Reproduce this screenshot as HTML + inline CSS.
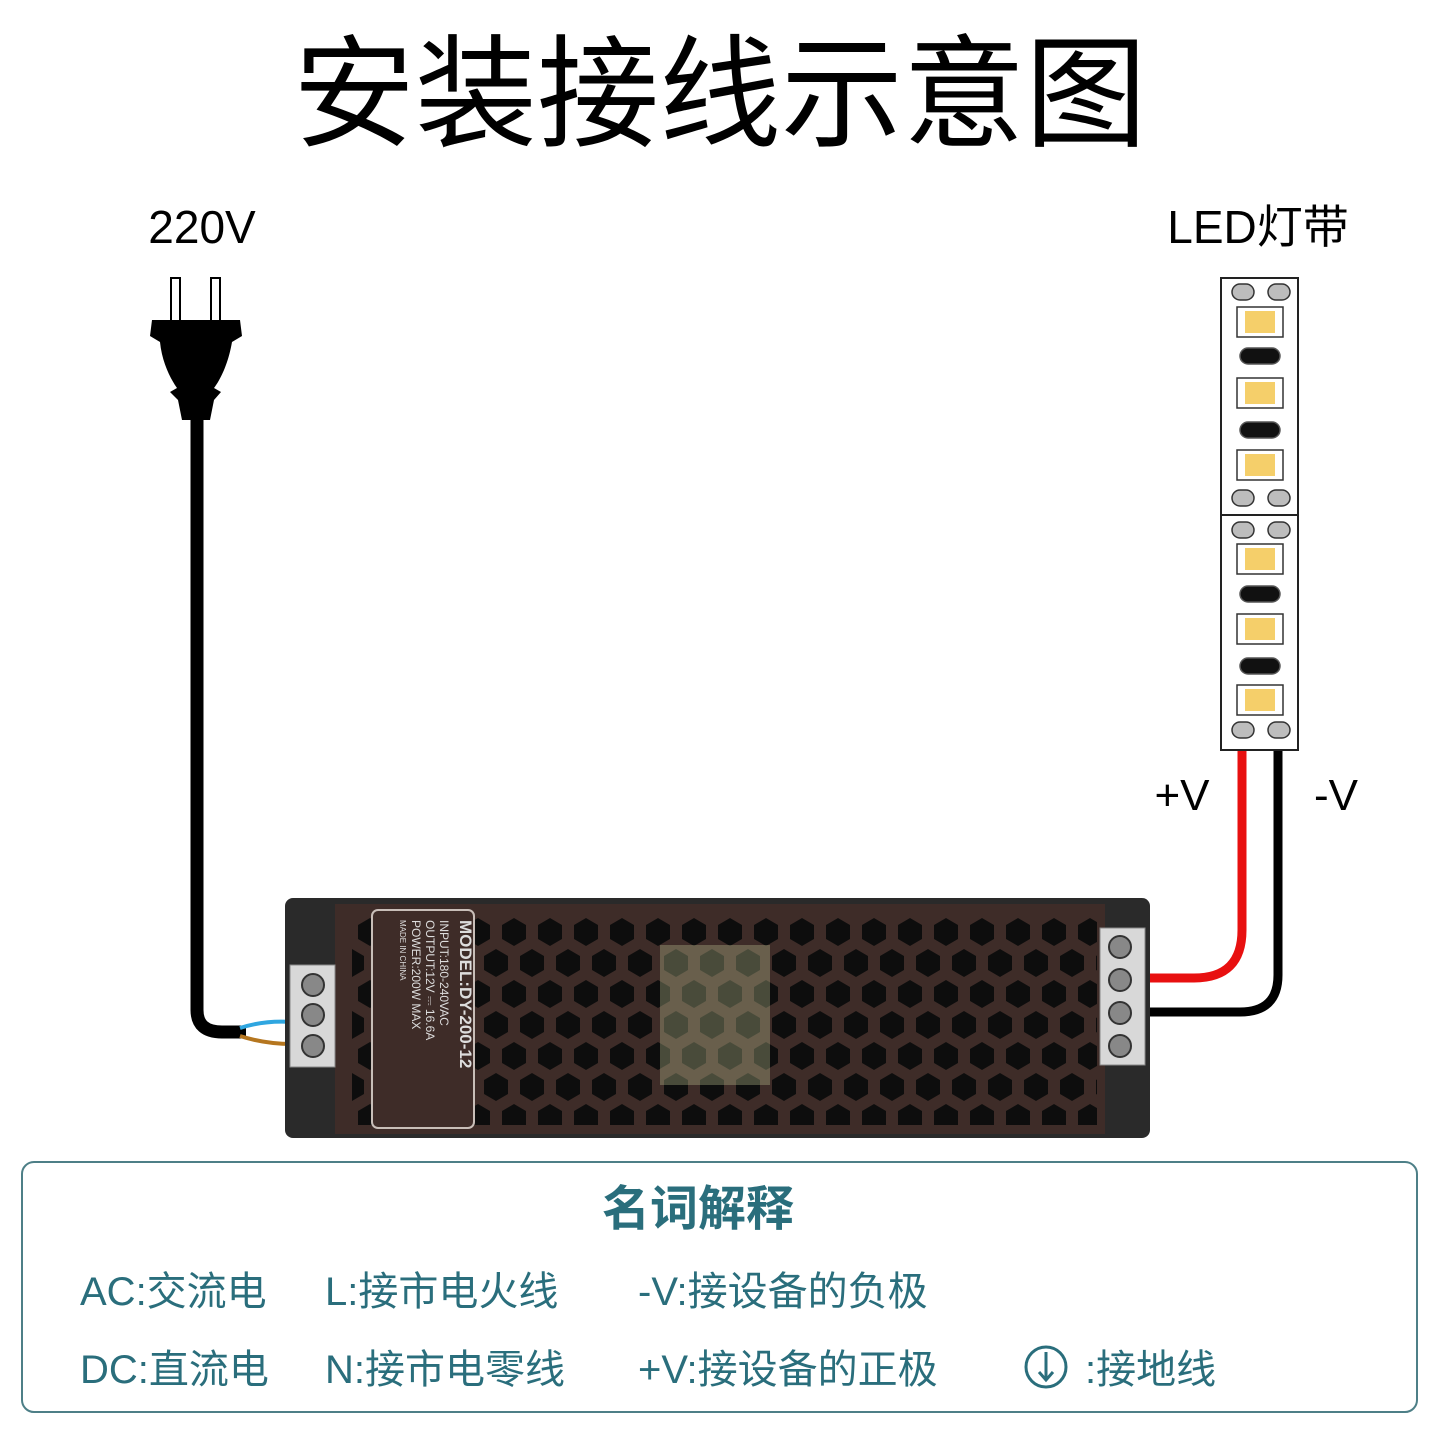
<!DOCTYPE html>
<html><head><meta charset="utf-8"><style>
body{margin:0;background:#fff;}
svg{display:block}
text{font-family:"Liberation Sans","Noto Sans CJK SC",sans-serif}
</style></head><body>
<svg width="1440" height="1440" viewBox="0 0 1440 1440" xmlns="http://www.w3.org/2000/svg">
<defs>
<pattern id="hex" x="352" y="915" width="36" height="62" patternUnits="userSpaceOnUse">
<polygon points="18,3 30,10 30,24 18,31 6,24 6,10" fill="#0d0d0d"/>
<polygon points="0,34 12,41 12,55 0,62 -12,55 -12,41" fill="#0d0d0d"/>
<polygon points="36,34 48,41 48,55 36,62 24,55 24,41" fill="#0d0d0d"/>
</pattern>
</defs>
<text x="720" y="137" font-size="122" text-anchor="middle" fill="#000">安装接线示意图</text>
<text x="202" y="243" font-size="46" text-anchor="middle" fill="#000">220V</text>
<text x="1258" y="243" font-size="46" text-anchor="middle" fill="#000">LED灯带</text>

<rect x="171" y="278" width="9" height="44" fill="#fff" stroke="#000" stroke-width="2"/>
<rect x="211" y="278" width="9" height="44" fill="#fff" stroke="#000" stroke-width="2"/>
<path d="M152,320 H240 L242,336 L232,342 C228,365 220,380 214,388 L221,392 L214,400 L210,420 H182 L178,400 L170,392 L177,388 C170,378 162,362 160,342 L150,336 Z" fill="#000"/>
<path d="M197,415 V1010 Q197,1032 222,1032 H246" fill="none" stroke="#000" stroke-width="13"/>
<path d="M240,1028 Q265,1020 292,1022" fill="none" stroke="#2fa6e0" stroke-width="4"/>
<path d="M240,1036 Q265,1044 292,1044" fill="none" stroke="#b5761f" stroke-width="4"/>

<path d="M1242,732 V930 Q1242,978 1194,978 H1145" fill="none" stroke="#e81010" stroke-width="9"/>
<path d="M1278,732 V975 Q1278,1012 1240,1012 H1145" fill="none" stroke="#000" stroke-width="9"/>
<text x="1182" y="810" font-size="44" text-anchor="middle" fill="#000">+V</text>
<text x="1336" y="810" font-size="44" text-anchor="middle" fill="#000">-V</text>

<rect x="1221" y="278" width="77" height="472" fill="#fff" stroke="#222" stroke-width="2"/>
<line x1="1221" y1="515" x2="1298" y2="515" stroke="#222" stroke-width="2"/>
<g fill="#bdbdbd" stroke="#333" stroke-width="1.5">
<rect x="1232" y="284" width="22" height="16" rx="8"/><rect x="1268" y="284" width="22" height="16" rx="8"/>
<rect x="1232" y="490" width="22" height="16" rx="8"/><rect x="1268" y="490" width="22" height="16" rx="8"/>
<rect x="1232" y="522" width="22" height="16" rx="8"/><rect x="1268" y="522" width="22" height="16" rx="8"/>
<rect x="1232" y="722" width="22" height="16" rx="8"/><rect x="1268" y="722" width="22" height="16" rx="8"/>
</g>
<g stroke="#333" stroke-width="1.5" fill="#fff">
<rect x="1237" y="307" width="46" height="30"/><rect x="1237" y="378" width="46" height="30"/><rect x="1237" y="450" width="46" height="30"/>
<rect x="1237" y="544" width="46" height="30"/><rect x="1237" y="614" width="46" height="30"/><rect x="1237" y="685" width="46" height="30"/>
</g>
<g fill="#f5cf6a">
<rect x="1245" y="311" width="30" height="22"/><rect x="1245" y="382" width="30" height="22"/><rect x="1245" y="454" width="30" height="22"/>
<rect x="1245" y="548" width="30" height="22"/><rect x="1245" y="618" width="30" height="22"/><rect x="1245" y="689" width="30" height="22"/>
</g>
<g fill="#111" stroke="#555" stroke-width="1.5">
<rect x="1240" y="348" width="40" height="16" rx="8"/><rect x="1240" y="422" width="40" height="16" rx="8"/>
<rect x="1240" y="586" width="40" height="16" rx="8"/><rect x="1240" y="658" width="40" height="16" rx="8"/>
</g>

<rect x="285" y="898" width="865" height="240" rx="8" fill="#2a2a2a"/>
<rect x="335" y="904" width="770" height="230" fill="#3e2c28"/>
<rect x="352" y="915" width="745" height="210" fill="url(#hex)"/>
<rect x="660" y="945" width="110" height="140" fill="#b9c090" opacity="0.35"/>
<rect x="372" y="910" width="102" height="218" rx="6" fill="#3e2c28" stroke="#c8beb8" stroke-width="2"/>
<g transform="translate(460,920) rotate(90)" fill="#ddd">
<text x="0" y="0" font-size="17" font-weight="bold">MODEL:DY-200-12</text>
<text x="0" y="20" font-size="12">INPUT:180-240VAC</text>
<text x="0" y="34" font-size="12">OUTPUT:12V ⎓ 16.6A</text>
<text x="0" y="48" font-size="12">POWER:200W   MAX</text>
<text x="0" y="60" font-size="8">MADE IN CHINA</text>
</g>
<rect x="290" y="965" width="45" height="102" fill="#d8d8d8" stroke="#888"/>
<circle cx="313" cy="985" r="11" fill="#888" stroke="#333" stroke-width="2"/>
<circle cx="313" cy="1015" r="11" fill="#888" stroke="#333" stroke-width="2"/>
<circle cx="313" cy="1046" r="11" fill="#888" stroke="#333" stroke-width="2"/>
<rect x="1100" y="928" width="45" height="137" fill="#d8d8d8" stroke="#888"/>
<circle cx="1120" cy="947" r="11" fill="#888" stroke="#333" stroke-width="2"/>
<circle cx="1120" cy="980" r="11" fill="#888" stroke="#333" stroke-width="2"/>
<circle cx="1120" cy="1013" r="11" fill="#888" stroke="#333" stroke-width="2"/>
<circle cx="1120" cy="1046" r="11" fill="#888" stroke="#333" stroke-width="2"/>

<rect x="22" y="1162" width="1395" height="250" rx="12" fill="#fff" stroke="#4d7f87" stroke-width="2"/>
<g fill="#2a6e7c" font-weight="bold">
<text x="698" y="1225" font-size="48" text-anchor="middle">名词解释</text>
<g font-size="40" font-weight="normal">
<text x="80" y="1305">AC:交流电</text>
<text x="325" y="1305">L:接市电火线</text>
<text x="638" y="1305">-V:接设备的负极</text>
<text x="80" y="1383">DC:直流电</text>
<text x="325" y="1383">N:接市电零线</text>
<text x="638" y="1383">+V:接设备的正极</text>
<text x="1085" y="1383">:接地线</text>
</g>
</g>
<circle cx="1046" cy="1367" r="20" fill="none" stroke="#2a6e7c" stroke-width="3"/>
<path d="M1046,1352 V1380 M1039,1372 L1046,1380 L1053,1372" fill="none" stroke="#2a6e7c" stroke-width="3"/>
</svg>
</body></html>
